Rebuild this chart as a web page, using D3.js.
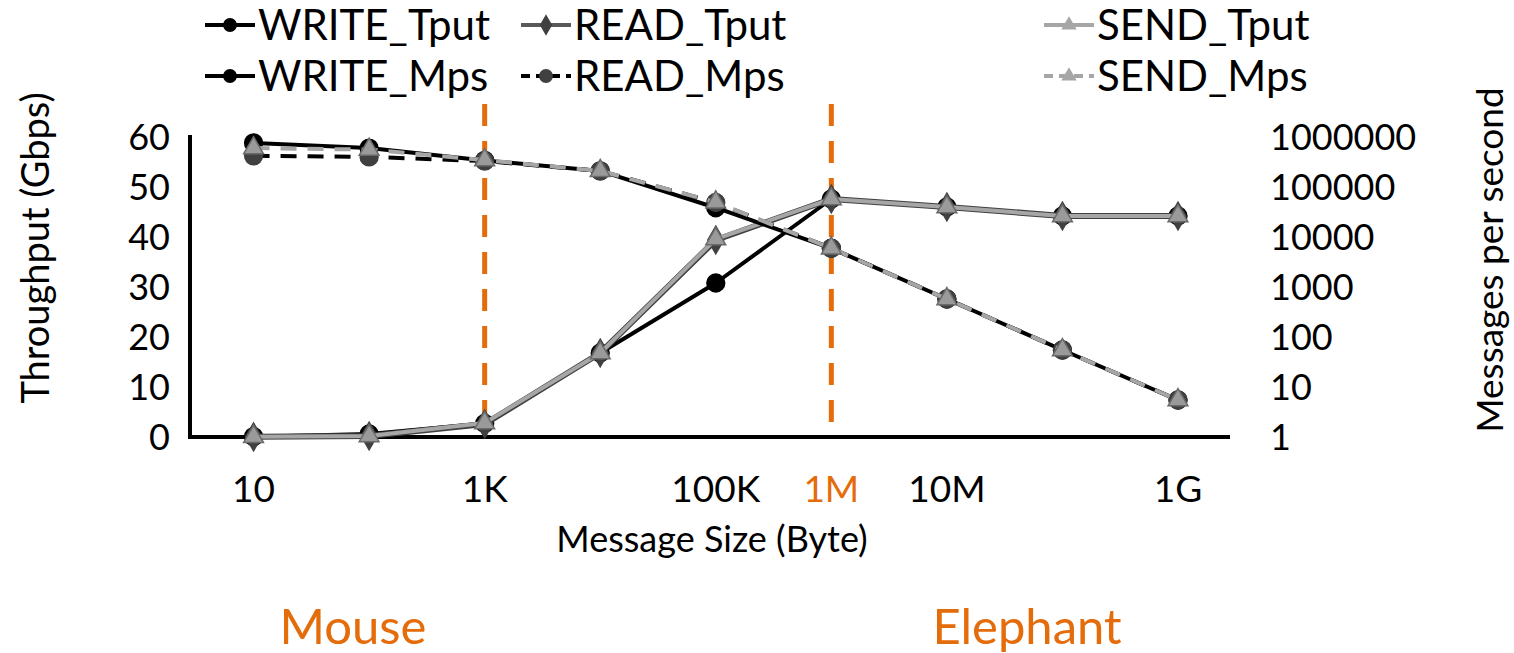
<!DOCTYPE html>
<html>
<head>
<meta charset="utf-8">
<script src="https://cdn.jsdelivr.net/npm/d3@7"></script>
<style>
  html, body { margin: 0; padding: 0; background: #fff; }
  svg { display: block; font-family: Lato, "Open Sans", sans-serif; }
</style>
</head>
<body>
<svg id="chart" width="1514" height="653"></svg>
<script>
// Message sizes in bytes (one point per decade)
const sizes = [1e1, 1e2, 1e3, 1e4, 1e5, 1e6, 1e7, 1e8, 1e9];

// Throughput, Gbps (left axis)
const writeTput = [0.06, 0.6, 2.7, 16.8, 30.8, 47.6, 46.0, 44.2, 44.2];
const readTput  = [0.03, 0.2, 2.6, 16.8, 39.4, 47.6, 46.0, 44.2, 44.2];
const sendTput  = [0.05, 0.2, 2.8, 16.8, 39.6, 47.6, 46.0, 44.2, 44.2];

// Messages per second (right axis, log)
const writeMps = [760000, 600000, 340000, 210000, 38500, 5950, 575, 55, 5.5];
const readMps  = [420000, 400000, 330000, 210000, 49000, 5950, 575, 55, 5.5];
const sendMps  = [600000, 560000, 345000, 210000, 49500, 5950, 575, 55, 5.5];

// Axis tick values and labels
const leftTicks = [0, 10, 20, 30, 40, 50, 60];
const rightTicks = [1, 10, 100, 1000, 10000, 100000, 1000000];
const xTickValues = [1e1, 1e3, 1e5, 1e6, 1e7, 1e9];
const xTickLabels = ["10", "1K", "100K", "1M", "10M", "1G"];
const highlightTick = "1M";

// Boundaries between the two traffic classes
const boundaries = [1e3, 1e6];
const classLabels = ["Mouse", "Elephant"];

const ORANGE = "#E46C0A";

const svg = d3.select("#chart");

const x = d3.scaleLinear().domain([0.45, 9.45]).range([190, 1230]);
const xs = v => x(Math.log10(v));
const yL = d3.scaleLinear().domain([0, 60]).range([437, 137]);
const yR = d3.scaleLog().domain([1, 1e6]).range([437, 137]);

// Axis lines
const axisG = svg.append("g");
axisG.append("line")
  .attr("x1", x(0.45)).attr("x2", x(0.45))
  .attr("y1", yL(60) - 2).attr("y2", yL(0) + 2)
  .attr("stroke", "#000").attr("stroke-width", 4);
axisG.append("line")
  .attr("x1", x(0.45) - 2).attr("x2", x(9.45))
  .attr("y1", yL(0)).attr("y2", yL(0))
  .attr("stroke", "#000").attr("stroke-width", 4);

const leftAxis = d3.axisLeft(yL).tickValues(leftTicks).tickSize(0).tickPadding(20);
const gL = svg.append("g").attr("transform", `translate(${x(0.45)},0)`).call(leftAxis);
gL.select(".domain").remove();
gL.selectAll("text").attr("font-size", 36).attr("font-family", "Lato").attr("fill", "#000")
  .attr("dy", "0.36em");

const rightAxis = d3.axisRight(yR).tickValues(rightTicks).tickFormat(d3.format("d")).tickSize(0).tickPadding(0);
const gR = svg.append("g").attr("transform", "translate(1270,0)").call(rightAxis);
gR.select(".domain").remove();
gR.selectAll("text").attr("font-size", 36).attr("font-family", "Lato").attr("fill", "#000")
  .attr("dy", "0.36em");

// Bottom labels placed through the size scale
const gX = svg.append("g");
gX.selectAll("text").data(xTickValues).join("text")
  .attr("x", d => xs(d))
  .attr("y", 502)
  .attr("text-anchor", "middle")
  .attr("font-size", 37)
  .attr("fill", (d, i) => xTickLabels[i] === highlightTick ? ORANGE : "#000")
  .text((d, i) => xTickLabels[i]);

// Axis titles
svg.append("text").attr("x", 712).attr("y", 552).attr("text-anchor", "middle")
  .attr("font-size", 36).text("Message Size (Byte)");
svg.append("text").attr("transform", "translate(49,248) rotate(-90)").attr("text-anchor", "middle")
  .attr("font-size", 38).text("Throughput (Gbps)");
svg.append("text").attr("transform", "translate(1503,260) rotate(-90)").attr("text-anchor", "middle")
  .attr("font-size", 37).text("Messages per second");

// Class boundaries
svg.append("g").selectAll("line").data(boundaries).join("line")
  .attr("x1", d => xs(d)).attr("x2", d => xs(d))
  .attr("y1", 104).attr("y2", 432)
  .attr("stroke", ORANGE).attr("stroke-width", 5)
  .attr("stroke-dasharray", "22,15");

// Series definitions
const series = [
  { name: "WRITE_Tput", values: writeTput, y: yL, line: "#000", width: 4, dash: null, sym: d3.symbolCircle, size: 250, fill: "#000", stroke: "#000" },
  { name: "READ_Tput", values: readTput, y: yL, line: "#404040", width: 6, dash: null, sym: d3.symbolDiamond, size: 220, fill: "#404040", stroke: "#404040" },
  { name: "SEND_Tput", values: sendTput, y: yL, line: "#A6A6A6", width: 4, dash: null, sym: d3.symbolTriangle, size: 170, fill: "#9A9A9A", stroke: "#6a6a6a" },
  { name: "WRITE_Mps", values: writeMps, y: yR, line: "#000", width: 4, dash: null, sym: d3.symbolCircle, size: 250, fill: "#000", stroke: "#000" },
  { name: "READ_Mps", values: readMps, y: yR, line: "#000", width: 4, dash: "16,11", sym: d3.symbolCircle, size: 250, fill: "#404040", stroke: "#404040" },
  { name: "SEND_Mps", values: sendMps, y: yR, line: "#A6A6A6", width: 4, dash: "16,11", sym: d3.symbolTriangle, size: 170, fill: "#9A9A9A", stroke: "#6a6a6a" }
];

const plot = svg.append("g");
series.forEach(s => {
  const pts = sizes.map((sz, i) => [xs(sz), s.y(s.values[i])]);
  plot.append("path")
    .attr("d", d3.line()(pts))
    .attr("fill", "none")
    .attr("stroke", s.line)
    .attr("stroke-width", s.width)
    .attr("stroke-linejoin", "round")
    .attr("stroke-dasharray", s.dash);
  plot.append("g").selectAll("path").data(pts).join("path")
    .attr("transform", d => `translate(${d[0]},${d[1]})`)
    .attr("d", d3.symbol().type(s.sym).size(s.size))
    .attr("fill", s.fill)
    .attr("stroke", s.stroke)
    .attr("stroke-width", 1.5);
});

// Legend
const legendCols = [205, 521, 1044];
const legendRows = [25, 76];
const legend = svg.append("g");
series.forEach((s, i) => {
  const col = i % 3, row = Math.floor(i / 3);
  const lx = legendCols[col], ly = legendRows[row];
  const g = legend.append("g").attr("transform", `translate(${lx},${ly})`);
  g.append("line").attr("x1", 0).attr("x2", 50).attr("y1", 0).attr("y2", 0)
    .attr("stroke", s.name === "READ_Tput" ? "#595959" : s.line)
    .attr("stroke-width", 4)
    .attr("stroke-dasharray", s.dash ? "9,6" : null);
  g.append("path").attr("transform", "translate(25,0)")
    .attr("d", d3.symbol().type(s.sym).size(s.size * 0.6))
    .attr("fill", s.name.startsWith("SEND") ? "#A6A6A6" : s.fill);
  g.append("text").attr("x", 53).attr("y", 0).attr("dy", "0.36em")
    .attr("font-size", 42).text(s.name);
});

// Traffic class labels
const classPos = [353, 1027];
svg.append("g").selectAll("text").data(classLabels).join("text")
  .attr("x", (d, i) => classPos[i]).attr("y", 644)
  .attr("text-anchor", "middle")
  .attr("font-size", 49)
  .attr("fill", ORANGE)
  .text(d => d);
</script>
</body>
</html>
